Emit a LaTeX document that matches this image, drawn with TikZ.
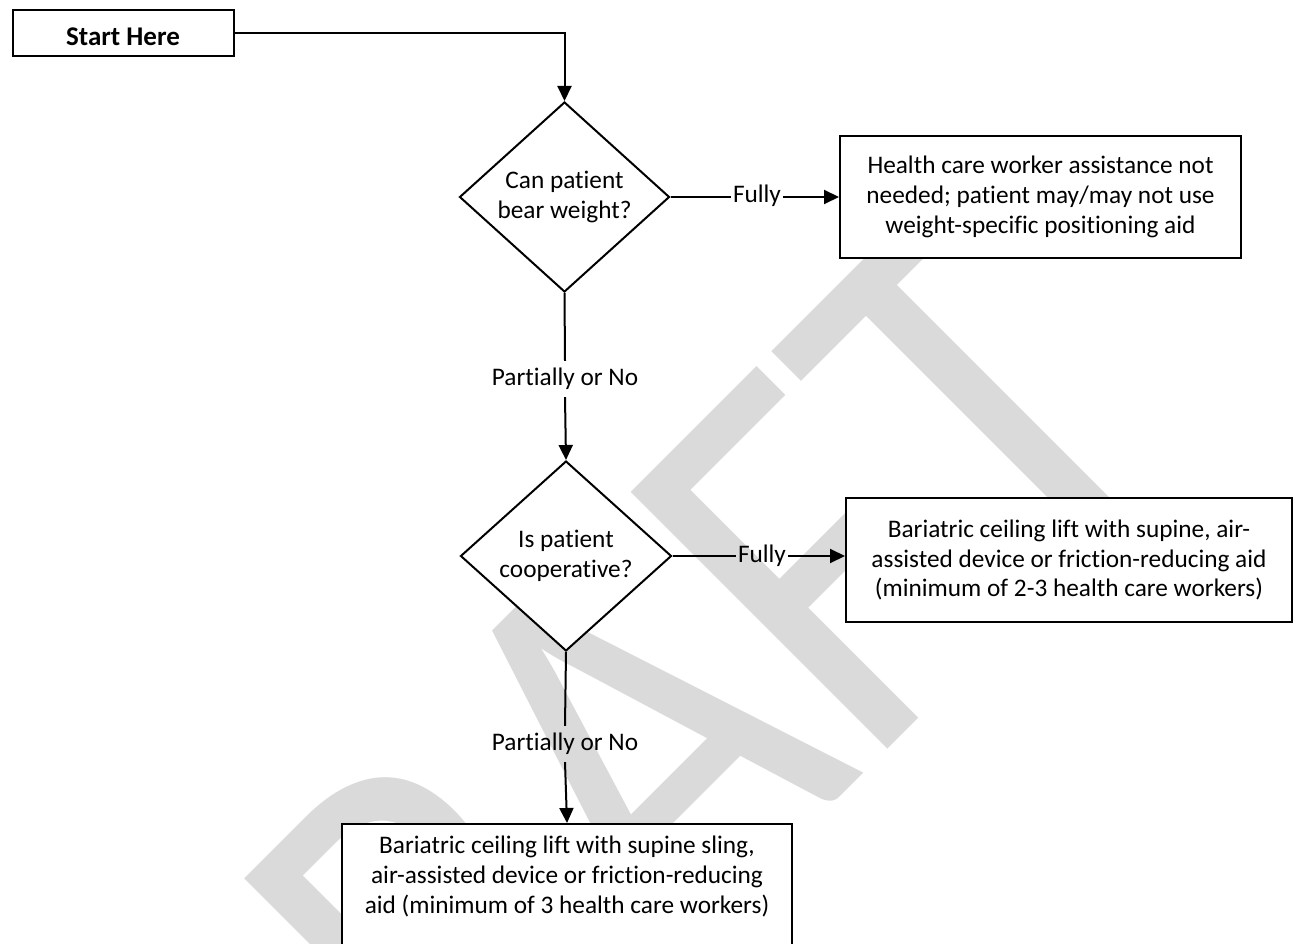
\documentclass[tikz,border=0pt]{standalone}
\usepackage{fontspec}
\setmainfont[Ligatures={NoCommon,NoRequired}]{Carlito}
\usepackage{graphicx}
\usetikzlibrary{shapes.geometric,arrows.meta}
\definecolor{wmgray}{RGB}{218,218,218}

\begin{document}
\begin{tikzpicture}[x=1pt, y=-1pt,
  txt/.style={font=\fontsize{25.3}{29.8}\selectfont},
  flowbox/.style={draw, line width=2pt, fill=white, align=center, inner sep=0pt, txt},
  startbox/.style={draw, line width=2pt, fill=white, inner sep=0pt, text height=25pt, text depth=0pt,
                   font=\fontsize{27}{30}\selectfont\bfseries},
  decision/.style={draw, diamond, line width=2pt, fill=white, align=center, inner sep=0pt,
                   minimum width=210pt, minimum height=190pt, txt},
  edgelabel/.style={txt, inner xsep=2pt, inner ysep=0pt, text height=17pt, text depth=5pt, minimum height=36pt},
  conn/.style={line width=2pt},
  arr/.style={conn, -{Triangle[length=15pt,width=14pt]}},
]
\useasboundingbox (0,0) rectangle (1294,944);
\clip (0,0) rectangle (1294,944);
\fill[white] (0,0) rectangle (1294,944);

% background watermark
\node[text=wmgray, rotate=45, anchor=base, inner sep=0pt, font=\fontsize{566}{566}\selectfont]
  (wm) at (728,909) {\scalebox{0.866}[1]{DRAFT}};

% shapes
\node[startbox, minimum width=221pt, minimum height=46pt] (start) at (123,33) {Start Here};
\node[decision] (d1) at (564.5,197) {Can patient\\bear weight?};
\node[flowbox, minimum width=401pt, minimum height=122pt] (b1) at (1040.5,197)
  {Health care worker assistance not\\needed; patient may/may not use\\weight-specific positioning aid};
\node[edgelabel] (f1) at (757,197) {Fully};
\node[edgelabel] (p1) at (565,379) {Partially or No};
\node[decision, minimum width=211pt] (d2) at (566,556) {Is patient\\cooperative?};
\node[edgelabel] (f2) at (762,556) {Fully};
\node[flowbox, minimum width=446pt, minimum height=124pt] (b2) at (1069,560)
  {Bariatric ceiling lift with supine, air-\\assisted device or friction-reducing aid\\(minimum of 2-3 health care workers)};
\node[edgelabel] (p2) at (565,744) {Partially or No};
\node[flowbox, anchor=north, minimum width=450pt, inner ysep=12pt] (b3) at (567,823)
  {Bariatric ceiling lift with supine sling,\\air-assisted device or friction-reducing\\aid (minimum of 3 health care workers)\rule[-45pt]{0pt}{45pt}};

% connectors
\draw[arr] (start.east) -| (d1.north);
\draw[conn] (d1.east) -- (f1.west);
\draw[arr] (f1.east) -- (b1.west);
\draw[conn] (d1.south) -- (p1.north);
\draw[arr] (p1.south) -- (d2.north);
\draw[conn] (d2.east) -- (f2.west);
\draw[arr] (f2.east) -- (f2.east -| b2.west);
\draw[conn] (d2.south) -- (p2.north);
\draw[arr] (p2.south) -- (b3.north);
\end{tikzpicture}
\end{document}
